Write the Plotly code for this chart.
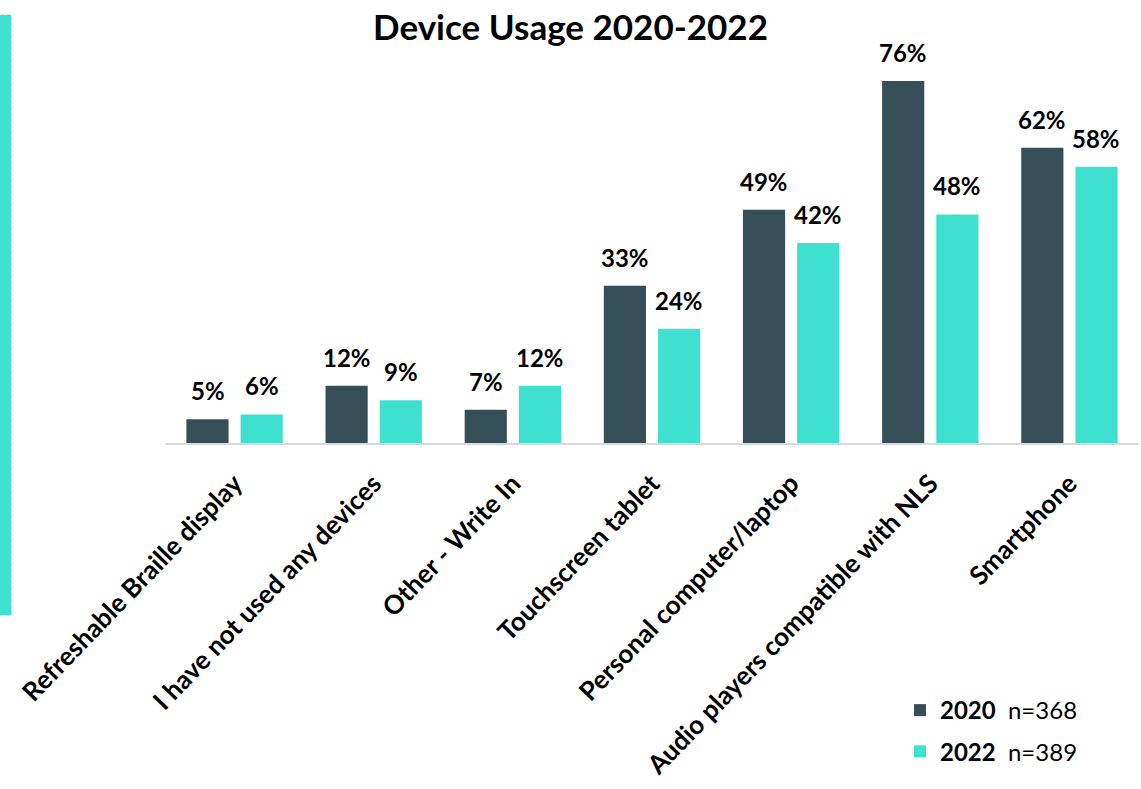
import plotly.graph_objects as go

categories = ["Refreshable Braille display", "I have not used any devices", "Other - Write In",
              "Touchscreen tablet", "Personal computer/laptop",
              "Audio players compatible with NLS", "Smartphone"]
values_2020 = [5, 12, 7, 33, 49, 76, 62]
values_2022 = [6, 9, 12, 24, 42, 48, 58]
series_names = ["<b>2020</b>  n=368", "<b>2022</b>  n=389"]
colors = ["#364e58", "#40e0d0"]

FONT = "Lato, 'Open Sans', sans-serif"

fig = go.Figure()
for i, (name, vals, col) in enumerate(zip(series_names, [values_2020, values_2022], colors)):
    fig.add_trace(go.Bar(
        x=categories, y=vals, name=name, marker_color=col,
        marker_line_width=0, legendgroup=f"g{i}",
    ))

# value labels above each bar (offset left/right for the two grouped bars)
for vals, dx in zip([values_2020, values_2022], [-27, 27]):
    for c, v in zip(categories, vals):
        fig.add_annotation(x=c, y=v, xref="x", yref="y", text=f"<b>{v}%</b>",
                           showarrow=False, xshift=dx, yshift=12, yanchor="bottom",
                           font=dict(size=24, color="black", family=FONT))

L, R, T, B = 165, 2, 62, 346
W, H = 1141, 789
pw, ph = W - L - R, H - T - B

fig.update_layout(
    width=W, height=H,
    margin=dict(l=L, r=R, t=T, b=B, autoexpand=False),
    paper_bgcolor="white", plot_bgcolor="white",
    barmode="group", bargap=0.221, bargroupgap=0.222,
    title=dict(text="<b>Device Usage 2020-2022</b>", x=0.5, xref="container",
               y=1 - 28 / H, yanchor="middle",
               font=dict(size=35, color="black", family=FONT)),
    font=dict(family=FONT, color="black"),
    xaxis=dict(tickangle=-46, tickfont=dict(size=26, color="black", family=FONT),
               showline=True, linecolor="#d9d9d9", linewidth=2,
               ticks="outside", ticklen=13, tickcolor="rgba(0,0,0,0)",
               automargin=False,
               showgrid=False, tickprefix="<b>", ticksuffix="</b>"),
    yaxis=dict(range=[0, 80], visible=False, showgrid=False, zeroline=False,
               automargin=False),
    legend=dict(x=(900 - L) / pw, y=(H - B - 688) / ph, xanchor="left", yanchor="top",
                font=dict(size=24, color="black", family=FONT),
                traceorder="grouped", tracegroupgap=7, itemwidth=30,
                bgcolor="rgba(0,0,0,0)"),
    showlegend=True,
)

# left decorative strip
fig.add_shape(type="rect", xref="paper", yref="paper",
              x0=(0 - L) / pw, x1=(11 - L) / pw,
              y0=(H - B - 615) / ph, y1=(H - B - 15) / ph,
              fillcolor="#40e0d0", line=dict(color="#40e0d0", width=1, dash="dot"))

fig.write_html("out.html", config={"displayModeBar": False},
               post_script="document.body.style.margin='0';document.body.style.overflow='hidden';")
